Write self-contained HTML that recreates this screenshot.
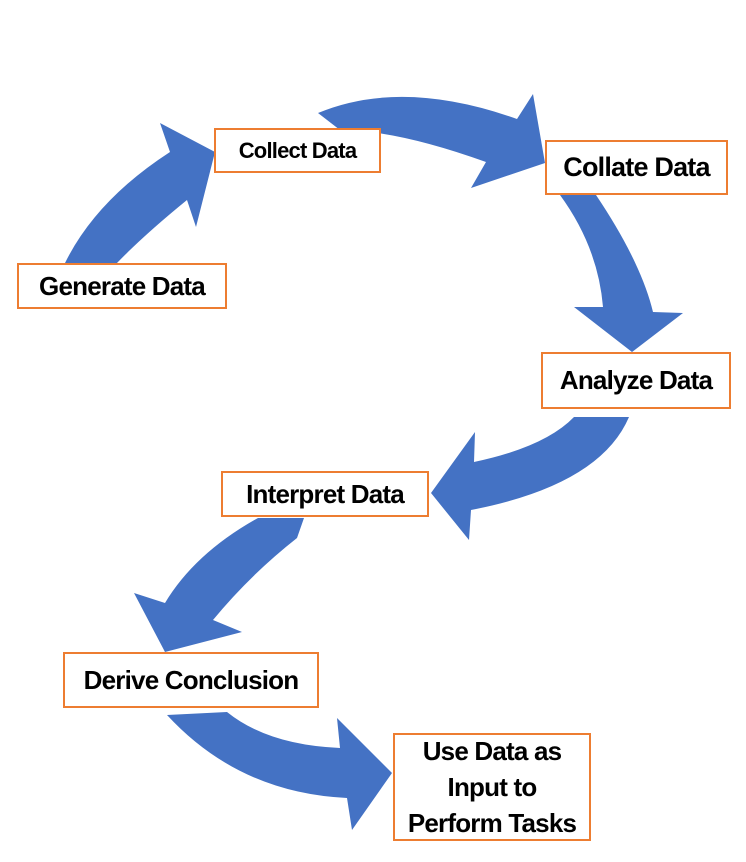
<!DOCTYPE html>
<html><head><style>
body{margin:0;background:#fff;width:746px;height:862px;position:relative;overflow:hidden;font-family:"Liberation Sans",sans-serif}
svg{position:absolute;left:0;top:0}
.b{position:absolute;box-sizing:border-box;border:2px solid #ED7D31;background:#fff;font-weight:bold;color:#000;display:flex;align-items:center;justify-content:center;text-align:center;white-space:nowrap;letter-spacing:-0.8px}
</style></head><body>
<svg width="746" height="862">
<g fill="#4472C4">
<path d="M65,263 Q96,200 170,152 L160,123 L215,152 L196,227 L187,200 Q144,235 117,263 Z"/>
<path d="M318,113 Q402,78 517,119 L533,94 L545,163 L471,188 L486,162 Q397,130 340,130 Z"/>
<path d="M560,195 L596,195 Q641,262 653,312 L683,313 L632,352 L574,307 L603,307 Q598,247 560,195 Z"/>
<path d="M629,417 Q600,485 471,510 L469,540 L431,493 L475,432 L474,462 Q545,447 574,417 Z"/>
<path d="M258,518 L304,518 L297,538 Q250,575 213,620 L242,632 L165,652 L134,593 L165,603 Q195,553 258,518 Z"/>
<path d="M167,715 L227,712 Q268,745 340,748 L337,718 L392,773 L352,830 L347,798 Q239,793 167,715 Z"/>
</g>
</svg>
<div class="b" style="left:214px;top:128px;width:167px;height:45px;font-size:22px">Collect Data</div>
<div class="b" style="left:545px;top:140px;width:183px;height:55px;font-size:27px">Collate Data</div>
<div class="b" style="left:17px;top:263px;width:210px;height:46px;font-size:26px">Generate Data</div>
<div class="b" style="left:541px;top:352px;width:190px;height:57px;font-size:26px">Analyze Data</div>
<div class="b" style="left:221px;top:471px;width:208px;height:46px;font-size:26px">Interpret Data</div>
<div class="b" style="left:63px;top:652px;width:256px;height:56px;font-size:26px">Derive Conclusion</div>
<div class="b" style="left:393px;top:733px;width:198px;height:108px;font-size:26px;line-height:36px">Use Data as<br>Input to<br>Perform Tasks</div>
</body></html>
